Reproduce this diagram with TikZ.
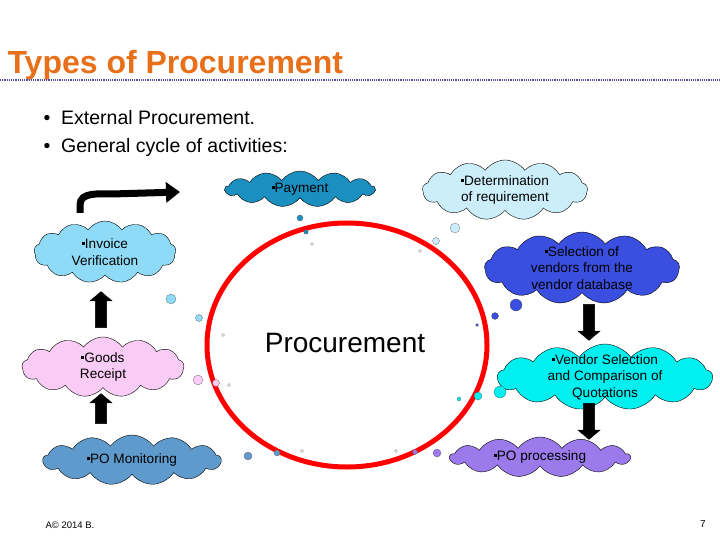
\documentclass[tikz,border=0pt]{standalone}
\usepackage{fontspec}
\setmainfont{Liberation Sans}
\usetikzlibrary{shapes.symbols,shapes.arrows,arrows.meta}
\definecolor{ttl}{HTML}{E8701A}
\newcommand{\bsq}{\rule[0.25em]{3pt}{3pt}}
\tikzset{
 cl/.style={cloud,cloud puffs=13,cloud puff arc=110,aspect=2.6,draw=black,thin,inner sep=0pt},
 ct/.style={align=center,font=\fontsize{13.6}{16.5}\selectfont},
 blk/.style={single arrow,fill=black,draw=black,minimum width=22pt,single arrow head extend=3pt,single arrow tip angle=100,inner sep=3pt,minimum height=36pt},
 bub/.style={circle,draw=black!70,very thin,inner sep=0pt}
}
\begin{document}
\begin{tikzpicture}[x=1pt,y=-1pt]
\useasboundingbox (0,0) rectangle (720,540);
\node[anchor=west,text=ttl,font=\bfseries\fontsize{32}{36}\selectfont] (title) at (4,65) {Types of Procurement};
\draw[densely dotted,line width=1.2pt,color=blue!40!gray] (0,80) -- (720,80);
\node[anchor=west,font=\fontsize{19.5}{23}\selectfont] (b1) at (40,118) {\textbullet\ \ External Procurement.};
\node[anchor=west,font=\fontsize{19.5}{23}\selectfont] (b2) at (40,147) {\textbullet\ \ General cycle of activities:};
\draw[red,line width=5pt] (347,345) ellipse (140 and 122);
\node[font=\fontsize{28}{32}\selectfont] (proc) at (345,343) {Procurement};
\node[cl,fill={rgb,255:red,27;green,143;blue,192},minimum width=150pt,minimum height=36pt] (pay) at (300,189) {};
\node[ct] at (pay) {\bsq Payment};
\node[cl,fill={rgb,255:red,204;green,238;blue,250},minimum width=165pt,minimum height=60pt] (det) at (505,190) {};
\node[ct] at (det) {\bsq Determination\\of requirement};
\node[cl,fill={rgb,255:red,143;green,219;blue,247},minimum width=142pt,minimum height=62pt] (inv) at (105,252) {};
\node[ct] at (inv) {\bsq Invoice\\Verification};
\node[cl,fill={rgb,255:red,58;green,79;blue,224},minimum width=195pt,minimum height=72pt] (sel) at (582,268) {};
\node[ct] at (sel) {\bsq Selection of\\vendors from the\\vendor database};
\node[cl,fill={rgb,255:red,249;green,204;blue,245},minimum width=162pt,minimum height=60pt] (gr) at (103,367) {};
\node[ct] at (gr) {\bsq Goods\\Receipt};
\node[cl,fill={rgb,255:red,0;green,240;blue,240},minimum width=215pt,minimum height=66pt] (vs) at (605,377) {};
\node[ct] at (vs) {\bsq Vendor Selection\\and Comparison of\\Quotations};
\node[cl,fill={rgb,255:red,94;green,155;blue,204},minimum width=178pt,minimum height=50pt] (pom) at (132,460) {};
\node[ct] at (pom) {\bsq PO Monitoring};
\node[cl,fill={rgb,255:red,155;green,123;blue,235},minimum width=180pt,minimum height=40pt] (pop) at (540,457) {};
\node[ct] at (pop) {\bsq PO processing};
\node[blk,rotate=90] (a1) at (101,312) {};
\node[blk,rotate=90,minimum height=30pt] (a2) at (101,411) {};
\node[blk,rotate=-90] (a3) at (589,320) {};
\node[blk,rotate=-90] (a4) at (589,419) {};
\coordinate (cs) at (80,213);
\coordinate (ce) at (180,192);
\draw[line width=7pt,-{Triangle[length=14pt,width=20pt]}] (cs) -- (80,205) to[out=90,in=180] (112,194) -- (ce);
\foreach \x/\y/\r/\c in {300/218/3/{rgb,255:red,27;green,143;blue,192},306/232/2.2/{rgb,255:red,27;green,143;blue,192},312/244/1.5/white,
 455/228/5/{rgb,255:red,204;green,238;blue,250},436/241/3.5/{rgb,255:red,204;green,238;blue,250},420/251/1.5/white,
 171/299/5/{rgb,255:red,143;green,219;blue,247},199/318/3.5/{rgb,255:red,143;green,219;blue,247},223/335/1.5/white,
 516/305/6/{rgb,255:red,58;green,79;blue,224},495/316/3.5/{rgb,255:red,58;green,79;blue,224},477/325/1.5/{rgb,255:red,58;green,79;blue,224},
 198/380/5/{rgb,255:red,249;green,204;blue,245},216/383/3.5/{rgb,255:red,249;green,204;blue,245},229/385/1.5/white,
 500/392/6/{rgb,255:red,0;green,240;blue,240},478/396/4/{rgb,255:red,0;green,240;blue,240},459/399/2/{rgb,255:red,0;green,240;blue,240},
 248/456/4/{rgb,255:red,94;green,155;blue,204},277/453/3/{rgb,255:red,94;green,155;blue,204},302/451/1.5/white,
 437/453/4/{rgb,255:red,155;green,123;blue,235},415/452/2.5/{rgb,255:red,155;green,123;blue,235},396/451/1.5/white}
 {\node[bub,fill=\c,minimum size=2*\r pt] at (\x,\y) {};}
\node[anchor=west,font=\fontsize{9.5}{11}\selectfont] (ft) at (42,525) {A© 2014 B.};
\node[font=\fontsize{10}{11}\selectfont] (pg) at (703,524) {7};
\end{tikzpicture}
\end{document}
